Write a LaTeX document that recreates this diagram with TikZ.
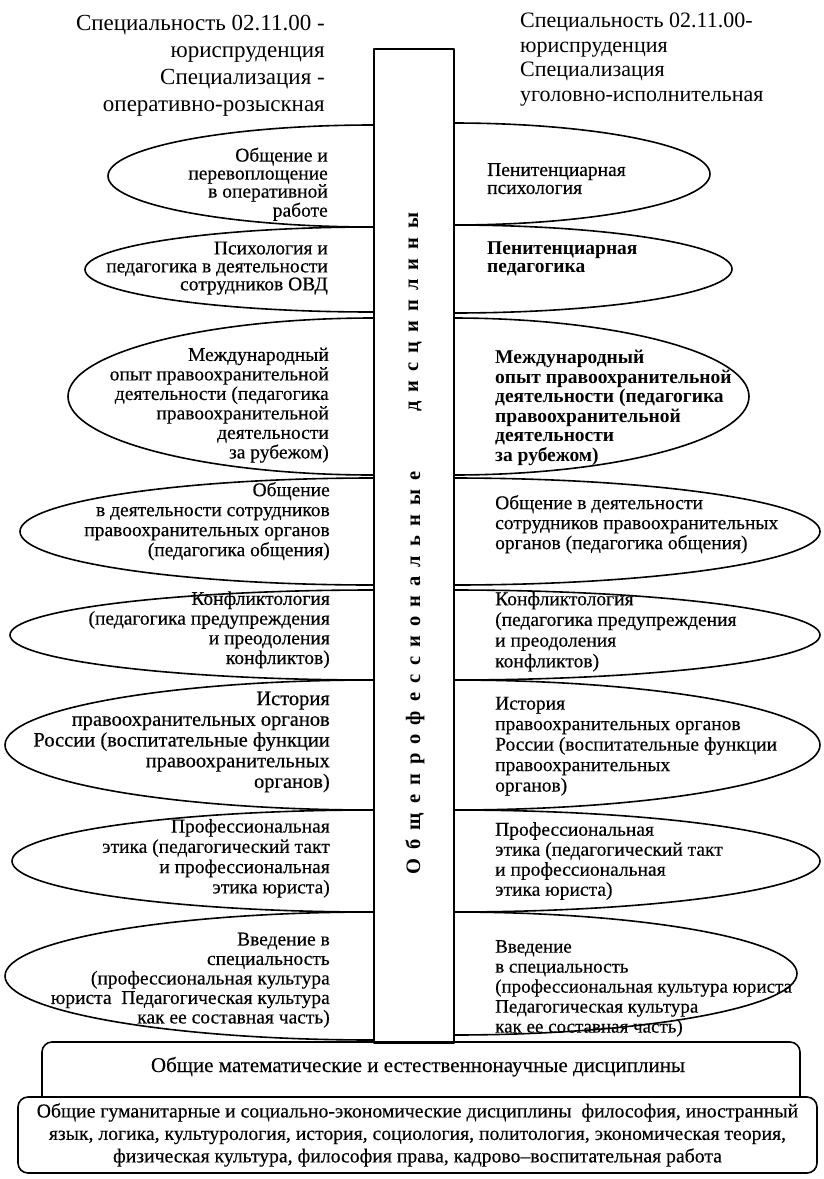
\documentclass[tikz,border=0pt]{standalone}
\usepackage{fontspec}
\setmainfont{Liberation Serif}
\newfontfamily\heavy{Liberation Serif}[FakeBold=0.35]
\newcommand\etext{\heavy\fontsize{19.5}{19.5}\selectfont}
\newcommand\leftlens[3]{%
  \draw[lens] (373,#1) .. controls ({373-0.5523*(373-#3)},#1) and (#3,{(#1+#2)/2-0.5523*(#2-#1)/2}) .. (#3,{(#1+#2)/2})
     .. controls (#3,{(#1+#2)/2+0.5523*(#2-#1)/2}) and ({373-0.5523*(373-#3)},#2) .. (373,#2);}
\newcommand\rightlens[3]{%
  \draw[lens] (453,#1) .. controls ({453+0.5523*(#3-453)},#1) and (#3,{(#1+#2)/2-0.5523*(#2-#1)/2}) .. (#3,{(#1+#2)/2})
     .. controls (#3,{(#1+#2)/2+0.5523*(#2-#1)/2}) and ({453+0.5523*(#3-453)},#2) .. (453,#2);}
\begin{document}
\begin{tikzpicture}[x=1pt,y=-1pt,line join=round,
  lens/.style={line width=1.6pt},
  lt/.style={anchor=north east,align=right,inner sep=0pt,font=\etext,execute at begin node=\strut},
  rt/.style={anchor=north west,align=left,inner sep=0pt,font=\etext,execute at begin node=\strut},
  box/.style={draw,line width=1.6pt,rounded corners=10pt,inner sep=0pt}]
\useasboundingbox (0,0) rectangle (824,1179);
% headers
\node[anchor=north east,align=right,inner sep=0pt,font=\fontsize{23}{27}\selectfont,execute at begin node=\strut] (hl) at (325,14.5)
  {Специальность 02.11.00 -\\юриспруденция\\Специализация -\\оперативно-розыскная};
\node[anchor=north west,align=left,inner sep=0pt,font=\fontsize{22}{24.5}\selectfont,execute at begin node=\strut] (hr) at (520,13)
  {Специальность 02.11.00-\\юриспруденция\\Специализация\\уголовно-исполнительная};
% central column
\node[draw,line width=1.7pt,minimum width=80pt,minimum height=994pt,inner sep=0pt,anchor=north west] (col) at (373,48) {};
\node[rotate=90,inner sep=0pt,font=\fontsize{20.5}{20}\selectfont\bfseries\addfontfeature{LetterSpace=44}] (v1) at (415,673) {Общепрофессиональные};
\node[rotate=90,inner sep=0pt,font=\fontsize{20.5}{20}\selectfont\bfseries\addfontfeature{LetterSpace=44}] (v2) at (415,312) {дисциплины};
% lenses
\leftlens{125}{227}{108}
\leftlens{227}{312}{85}
\leftlens{318}{475}{68}
\leftlens{478}{585}{20}
\leftlens{590}{680}{10}
\leftlens{680}{810}{5}
\leftlens{810}{912}{12}
\leftlens{912}{1040}{5}
\rightlens{123}{225}{710}
\rightlens{225}{313}{732}
\rightlens{318}{475}{749}
\rightlens{478}{585}{820}
\rightlens{590}{680}{820}
\rightlens{680}{810}{820}
\rightlens{810}{912}{820}
\rightlens{912}{1035}{797}
% left texts
\node[lt,font=\heavy\fontsize{19.5}{18}\selectfont] (l1) at (328,147.4) {Общение и\\перевоплощение\\в оперативной\\работе};
\node[lt,font=\heavy\fontsize{19.5}{18}\selectfont] (l2) at (328,241.4) {Психология и\\педагогика в деятельности\\сотрудников ОВД};
\node[lt] (l3) at (329,347.4) {Международный\\опыт правоохранительной\\деятельности (педагогика\\правоохранительной\\деятельности\\за рубежом)};
\node[lt,font=\heavy\fontsize{19.5}{20}\selectfont] (l4) at (330,482) {Общение\\в деятельности сотрудников\\правоохранительных органов\\(педагогика общения)};
\node[lt,font=\heavy\fontsize{19.5}{19.7}\selectfont] (l5) at (330,591.2) {Конфликтология\\(педагогика предупреждения\\и преодоления\\конфликтов)};
\node[lt,font=\heavy\fontsize{20.5}{20.7}\selectfont] (l6) at (330,691.5) {История\\правоохранительных органов\\России (воспитательные функции\\правоохранительных\\органов)};
\node[lt,font=\heavy\fontsize{19.5}{20.3}\selectfont] (l7) at (330,818.8) {Профессиональная\\этика (педагогический такт\\и профессиональная\\этика юриста)};
\node[lt] (l8) at (330,932.5) {Введение в\\специальность\\(профессиональная культура\\юриста~~Педагогическая культура\\как ее составная часть)};
% right texts
\node[rt,font=\heavy\fontsize{19.5}{18}\selectfont] (r1) at (487,163) {Пенитенциарная\\психология};
\node[rt,font=\fontsize{19.5}{17.5}\selectfont\bfseries] (r2) at (487,241.7) {Пенитенциарная\\педагогика};
\node[rt,font=\fontsize{19.5}{19.5}\selectfont\bfseries] (r3) at (495,350.3) {Международный\\опыт правоохранительной\\деятельности (педагогика\\правоохранительной\\деятельности\\за рубежом)};
\node[rt,font=\heavy\fontsize{19.5}{20}\selectfont] (r4) at (495,495) {Общение в деятельности\\сотрудников правоохранительных\\органов (педагогика общения)};
\node[rt,font=\heavy\fontsize{19.5}{20.7}\selectfont] (r5) at (495,591.5) {Конфликтология\\(педагогика предупреждения\\и преодоления\\конфликтов)};
\node[rt,font=\heavy\fontsize{19.5}{20.5}\selectfont] (r6) at (495,696.6) {История\\правоохранительных органов\\России (воспитательные функции\\правоохранительных\\органов)};
\node[rt,font=\heavy\fontsize{19.5}{20}\selectfont] (r7) at (495,822) {Профессиональная\\этика (педагогический такт\\и профессиональная\\этика юриста)};
\node[rt,font=\heavy\fontsize{19}{20}\selectfont] (r8) at (495,940) {Введение\\в специальность\\(профессиональная культура юриста\\Педагогическая культура\\как ее составная часть)};
% bottom boxes
\draw[line width=1.6pt,rounded corners=10pt] (42,1097) -- (42,1042) -- (800,1042) -- (800,1097);
\node[inner sep=0pt,anchor=base,font=\heavy\fontsize{21}{21}\selectfont] (math) at (418,1072) {Общие математические и естественнонаучные дисциплины};
\node[box,minimum width=799pt,minimum height=76pt,align=center,font=\heavy\fontsize{19.7}{22.5}\selectfont] (hum) at (417.5,1135)
  {Общие гуманитарные и социально-экономические дисциплины~~философия, иностранный\\язык, логика, культурология, история, социология, политология, экономическая теория,\\физическая культура, философия права, кадрово–воспитательная работа};
\end{tikzpicture}
\end{document}
